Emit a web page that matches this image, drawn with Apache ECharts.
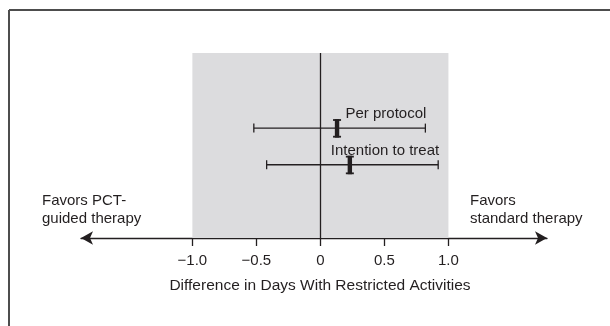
<!DOCTYPE html>
<html><head><meta charset="utf-8">
<script src="https://cdn.jsdelivr.net/npm/echarts@6/dist/echarts.min.js"></script>
<style>html,body{margin:0;padding:0;background:#fff}#c{width:610px;height:326px}</style>
</head><body><div id="c"></div>
<script>
const analyses = ['Per protocol', 'Intention to treat'];
const rowPos = [3, 2];
const estimates = [0.13, 0.23];
const lowers = [-0.52, -0.42];
const uppers = [0.82, 0.92];
const tickValues = [-1, -0.5, 0, 0.5, 1];
const xMin = -1.87, xMax = 1.77;
const yMin = 0, yMax = 5.05;
const shadeRange = [-1, 1];
const leftNote = 'Favors PCT-\nguided therapy';
const rightNote = 'Favors\nstandard therapy';
const axisTitle = 'Difference in Days With Restricted Activities';

const FONT = '"Liberation Sans", Arial, sans-serif';
const INK = '#231f20';

const data = analyses.map((a, i) => [estimates[i], rowPos[i], lowers[i], uppers[i]]);

const chart = echarts.init(document.getElementById('c'));
chart.setOption({
  animation: false,
  grid: { left: 81, right: 63, top: 53, bottom: 88 },
  xAxis: {
    type: 'value', min: xMin, max: xMax,
    splitLine: { show: false },
    axisLine: { show: true, lineStyle: { color: INK, width: 1.3 }, symbol: ['arrow', 'arrow'], symbolSize: [10, 12] },
    axisTick: { show: true, customValues: tickValues, length: 8, inside: false, lineStyle: { color: INK, width: 1.3 } },
    axisLabel: {
      customValues: tickValues, margin: 15, color: INK, fontFamily: FONT, fontSize: 15,
      formatter: v => v === 0 ? '0' : (v < 0 ? '\u2212' : '') + Math.abs(v).toFixed(1)
    }
  },
  yAxis: {
    type: 'value', min: yMin, max: yMax, show: false, splitLine: { show: false }
  },
  graphic: [
    { type: 'line', shape: { x1: 9, y1: 10, x2: 610, y2: 10 }, style: { stroke: '#4d4d4d', lineWidth: 2 }, z: 100 },
    { type: 'line', shape: { x1: 9, y1: 10, x2: 9, y2: 326 }, style: { stroke: '#4d4d4d', lineWidth: 2 }, z: 100 },
    { type: 'text', left: 42, top: 192, style: { text: leftNote, fill: INK, font: '15px ' + FONT, lineHeight: 18 } },
    { type: 'text', left: 470, top: 192, style: { text: rightNote, fill: INK, font: '15px ' + FONT, lineHeight: 18 } },
    { type: 'text', x: 320, y: 286, style: { text: axisTitle, fill: INK, font: '15.5px ' + FONT, align: 'center', verticalAlign: 'middle' } }
  ],
  series: [{
    type: 'custom',
    data: data,
    encode: { x: [0, 2, 3], y: 1 },
    renderItem: function (params, api) {
      const cat = analyses[params.dataIndex];
      const yv = api.value(1);
      const pe = api.coord([api.value(0), yv]);
      const pl = api.coord([api.value(2), yv]);
      const pu = api.coord([api.value(3), yv]);
      const y = pe[1];
      const st = { stroke: INK, lineWidth: 1.3 };
      return {
        type: 'group',
        children: [
          { type: 'line', shape: { x1: pl[0], y1: y, x2: pu[0], y2: y }, style: st },
          { type: 'line', shape: { x1: pl[0], y1: y - 4.5, x2: pl[0], y2: y + 4.5 }, style: st },
          { type: 'line', shape: { x1: pu[0], y1: y - 4.5, x2: pu[0], y2: y + 4.5 }, style: st },
          { type: 'rect', shape: { x: pe[0] - 2.2, y: y - 9, width: 4.4, height: 18.5 }, style: { fill: INK } },
          { type: 'rect', shape: { x: pe[0] - 4, y: y - 9, width: 8, height: 1.8 }, style: { fill: INK } },
          { type: 'rect', shape: { x: pe[0] - 4, y: y + 7.7, width: 8, height: 1.8 }, style: { fill: INK } },
          { type: 'text', x: pu[0] + 1, y: y - 14, style: { text: cat, fill: INK, font: '15px ' + FONT, align: 'right', verticalAlign: 'middle' } }
        ]
      };
    },
    markArea: {
      silent: true,
      itemStyle: { color: '#dcdcde' },
      data: [[{ xAxis: shadeRange[0] }, { xAxis: shadeRange[1] }]]
    },
    markLine: {
      silent: true, symbol: 'none', label: { show: false },
      lineStyle: { color: INK, width: 1.3, type: 'solid' },
      data: [{ xAxis: 0 }]
    },
    z: 3
  }]
});
</script></body></html>
